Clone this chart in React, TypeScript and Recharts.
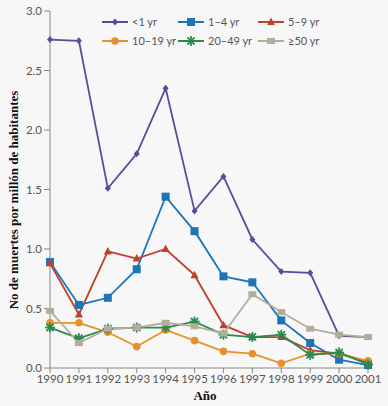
import { LineChart, Line, XAxis, YAxis } from 'recharts';

const years = ['1990', '1991', '1992', '1993', '1994', '1995', '1996', '1997', '1998', '1999', '2000', '2001'];
const under1 = [2.76, 2.75, 1.51, 1.8, 2.35, 1.32, 1.61, 1.08, 0.81, 0.8, 0.27, 0.26];
const age1to4 = [0.89, 0.53, 0.59, 0.83, 1.44, 1.15, 0.77, 0.72, 0.4, 0.21, 0.07, 0.025];
const age5to9 = [0.88, 0.45, 0.98, 0.92, 1.0, 0.78, 0.36, 0.26, 0.26, 0.15, 0.12, 0.045];
const age10to19 = [0.38, 0.38, 0.3, 0.18, 0.32, 0.23, 0.14, 0.12, 0.04, 0.12, 0.12, 0.06];
const age20to49 = [0.34, 0.25, 0.33, 0.34, 0.34, 0.39, 0.28, 0.26, 0.28, 0.11, 0.13, 0.03];
const age50plus = [0.48, 0.21, 0.33, 0.34, 0.38, 0.35, 0.29, 0.62, 0.47, 0.33, 0.28, 0.26];
const yTicks = [0, 0.5, 1, 1.5, 2, 2.5, 3];

const data = years.map((year, i) => ({
  year,
  under1: under1[i],
  age1to4: age1to4[i],
  age5to9: age5to9[i],
  age10to19: age10to19[i],
  age20to49: age20to49[i],
  age50plus: age50plus[i],
}));

type Shape = 'diamond' | 'square' | 'triangle' | 'circle' | 'asterisk' | 'bar';

const series: { key: string; name: string; color: string; shape: Shape }[] = [
  { key: 'under1', name: '<1 yr', color: '#5a4a9c', shape: 'diamond' },
  { key: 'age1to4', name: '1–4 yr', color: '#1b75b8', shape: 'square' },
  { key: 'age5to9', name: '5–9 yr', color: '#c0402e', shape: 'triangle' },
  { key: 'age10to19', name: '10–19 yr', color: '#e8912c', shape: 'circle' },
  { key: 'age20to49', name: '20–49 yr', color: '#2a8a50', shape: 'asterisk' },
  { key: 'age50plus', name: '≥50 yr', color: '#b5ad9c', shape: 'bar' },
];

const Marker = ({ cx, cy, shape, color }: { cx: number; cy: number; shape: Shape; color: string }) => {
  switch (shape) {
    case 'diamond':
      return <path d={`M${cx},${cy - 3.5}L${cx + 3},${cy}L${cx},${cy + 3.5}L${cx - 3},${cy}Z`} fill={color} />;
    case 'square':
      return <rect x={cx - 4} y={cy - 4} width={8} height={8} fill={color} />;
    case 'triangle':
      return <path d={`M${cx},${cy - 4.5}L${cx + 4},${cy + 3}L${cx - 4},${cy + 3}Z`} fill={color} />;
    case 'circle':
      return <circle cx={cx} cy={cy} r={3.8} fill={color} />;
    case 'asterisk':
      return (
        <g stroke={color} strokeWidth={1.8}>
          <line x1={cx - 5} y1={cy} x2={cx + 5} y2={cy} />
          <line x1={cx} y1={cy - 5} x2={cx} y2={cy + 5} />
          <line x1={cx - 3.6} y1={cy - 3.6} x2={cx + 3.6} y2={cy + 3.6} />
          <line x1={cx - 3.6} y1={cy + 3.6} x2={cx + 3.6} y2={cy - 3.6} />
        </g>
      );
    default:
      return <rect x={cx - 4} y={cy - 3} width={8} height={6} fill={color} />;
  }
};

const renderDot = (shape: Shape, color: string) => (p: any) => (
  <Marker key={`${shape}-${p.index}`} cx={p.cx} cy={p.cy} shape={shape} color={color} />
);

const ChartLegend = () => (
  <div
    style={{
      position: 'absolute',
      top: 14,
      left: 102,
      display: 'grid',
      gridTemplateColumns: '76px 80px 80px',
      rowGap: 4,
      fontFamily: 'Lato, sans-serif',
      fontSize: 11,
      color: '#555',
    }}
  >
    {series.map((s) => (
      <div key={s.key} style={{ display: 'flex', alignItems: 'center', height: 15 }}>
        <svg width={26} height={12} style={{ marginRight: 4 }}>
          <line x1={0} y1={6} x2={26} y2={6} stroke={s.color} strokeWidth={2} />
          <Marker cx={13} cy={6} shape={s.shape} color={s.color} />
        </svg>
        <span>{s.name}</span>
      </div>
    ))}
  </div>
);

const App = () => {
  return (
    <div style={{ position: 'absolute', left: 0, top: 0, width: 388, height: 406, background: '#f7f7f7' }}>
      <LineChart width={388} height={406} data={data} margin={{ top: 11, right: 20, left: 0, bottom: 8 }}>
        <XAxis
          dataKey="year"
          stroke="#888"
          tick={{ fill: '#555', fontSize: 11.5, fontFamily: 'Lato, sans-serif' }}
          tickLine={{ stroke: '#888' }}
          tickSize={5}
          height={30}
          label={{
            content: () => (
              <text x={205} y={400} textAnchor="middle" fontFamily="'Liberation Serif', serif" fontWeight="bold" fontSize={13} fill="#111">
                Año
              </text>
            ),
          }}
        />
        <YAxis
          width={50}
          domain={[0, 3]}
          ticks={yTicks}
          tickFormatter={(v: number) => v.toFixed(1)}
          stroke="#888"
          tick={{ fill: '#555', fontSize: 11.5, fontFamily: 'Lato, sans-serif' }}
          tickSize={6}
          label={{
            content: () => (
              <text
                x={18}
                y={200}
                transform="rotate(-90, 18, 200)"
                textAnchor="middle"
                fontFamily="'Liberation Serif', serif"
                fontWeight="bold"
                fontSize={13}
                fill="#111"
              >
                No de muertes por millón de habitantes
              </text>
            ),
          }}
        />
        {series.map((s) => (
          <Line
            key={s.key}
            dataKey={s.key}
            name={s.name}
            stroke={s.color}
            strokeWidth={1.8}
            dot={renderDot(s.shape, s.color)}
            activeDot={false}
            isAnimationActive={false}
          />
        ))}
      </LineChart>
      <ChartLegend />
    </div>
  );
};

export default App;
